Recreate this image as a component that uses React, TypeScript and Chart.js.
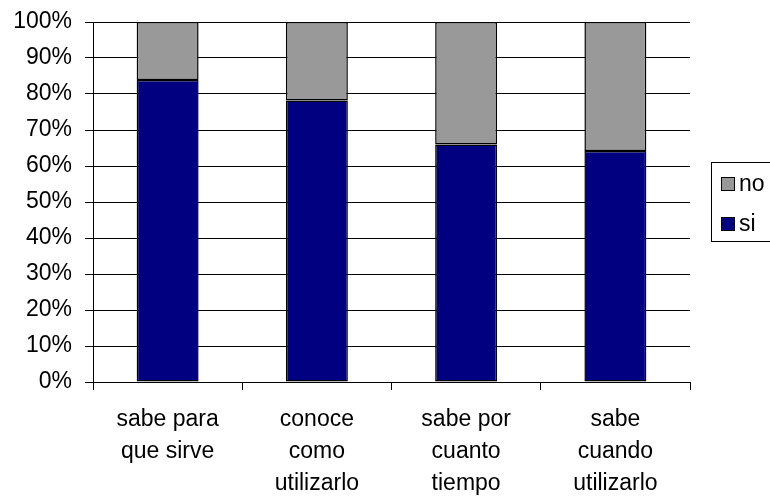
import React, { useEffect, useRef } from "react";
import { Chart, registerables } from "chart.js";

Chart.register(...registerables);

// Categories (multi-line axis labels)
const categories: string[][] = [
  ["sabe para", "que sirve"],
  ["conoce", "como", "utilizarlo"],
  ["sabe por", "cuanto", "tiempo"],
  ["sabe", "cuando", "utilizarlo"],
];

// Percentages per category
const siValues = [83.9, 78.2, 66.0, 64.2];
const noValues = [16.1, 21.8, 34.0, 35.8];

const yTicks = [0, 10, 20, 30, 40, 50, 60, 70, 80, 90, 100];

const SI_COLOR = "#000080";
const NO_COLOR = "#999999";
const FONT_FAMILY = "'Liberation Sans', Arial, sans-serif";
const FONT_SIZE = 23;

// Boxed legend at the right side of the chart
const boxedLegend = {
  id: "boxedLegend",
  afterDraw(chart: Chart) {
    const ctx = chart.ctx;
    ctx.save();
    ctx.strokeStyle = "#000";
    ctx.lineWidth = 1;
    ctx.strokeRect(711.5, 162.5, 80, 79);
    const items = [
      { label: "no", color: NO_COLOR, y: 177 },
      { label: "si", color: SI_COLOR, y: 217 },
    ];
    ctx.font = `${FONT_SIZE}px ${FONT_FAMILY}`;
    ctx.textBaseline = "middle";
    ctx.textAlign = "left";
    for (const it of items) {
      ctx.fillStyle = it.color;
      ctx.fillRect(721, it.y, 14, 14);
      ctx.strokeRect(721.5, it.y + 0.5, 13, 13);
      ctx.fillStyle = "#000";
      ctx.fillText(it.label, 739, it.y + 8);
    }
    ctx.restore();
  },
};

export default function App() {
  const canvasRef = useRef<HTMLCanvasElement | null>(null);

  useEffect(() => {
    document.body.style.margin = "0";
    const canvas = canvasRef.current;
    if (!canvas) return;
    Chart.defaults.color = "#000";
    Chart.defaults.font.family = FONT_FAMILY;
    Chart.defaults.font.size = FONT_SIZE;

    const chart = new Chart(canvas, {
      type: "bar",
      data: {
        labels: categories,
        datasets: [
          {
            label: "si",
            data: siValues,
            backgroundColor: SI_COLOR,
            borderColor: "#000",
            borderWidth: 1.5,
            borderSkipped: false,
          },
          {
            label: "no",
            data: noValues,
            backgroundColor: NO_COLOR,
            borderColor: "#000",
            borderWidth: 1.5,
            borderSkipped: false,
          },
        ],
      },
      options: {
        responsive: false,
        animation: false,
        layout: { padding: { top: 22, right: 80, left: 0, bottom: 0 } },
        datasets: {
          bar: { categoryPercentage: 1, barPercentage: 0.415 },
        },
        plugins: {
          legend: { display: false },
          tooltip: { enabled: false },
        },
        scales: {
          x: {
            stacked: true,
            grid: {
              display: true,
              drawOnChartArea: false,
              drawTicks: true,
              tickLength: 8,
              color: "#000",
              offset: true,
            },
            border: { display: true, color: "#000" },
            ticks: {
              maxRotation: 0,
              autoSkip: false,
              padding: 14,
              font: { size: FONT_SIZE, lineHeight: 32 / FONT_SIZE },
            },
            afterFit(scale: any) {
              scale.height = 114;
            },
          },
          y: {
            stacked: true,
            min: 0,
            max: 100,
            afterBuildTicks(scale: any) {
              scale.ticks = yTicks.map((v) => ({ value: v }));
            },
            grid: {
              color: "#000",
              tickLength: 8,
              drawTicks: true,
            },
            border: { display: true, color: "#000" },
            ticks: {
              padding: 13,
              font: { size: FONT_SIZE, lineHeight: 0.5 },
              callback: (v: any) => `${v}%`,
            },
            afterFit(scale: any) {
              scale.width = 93;
            },
          },
        },
      },
      plugins: [boxedLegend],
    });

    return () => chart.destroy();
  }, []);

  return (
    <div style={{ position: "absolute", left: 0, top: 0, width: 770, height: 496, background: "#fff" }}>
      <canvas ref={canvasRef} width={770} height={496} />
    </div>
  );
}
